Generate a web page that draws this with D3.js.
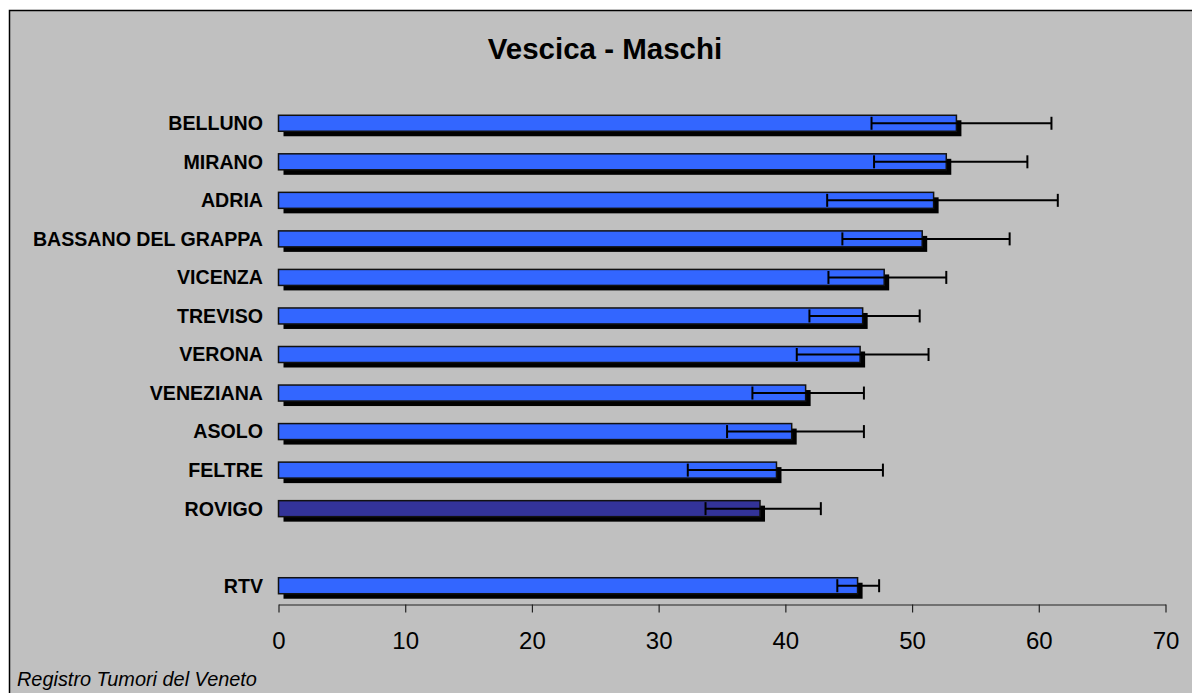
<!DOCTYPE html>
<html>
<head>
<meta charset="utf-8">
<script src="https://cdn.jsdelivr.net/npm/d3@7"></script>
<style>
  html, body { margin: 0; padding: 0; background: #ffffff; }
  svg { display: block; }
  text { font-family: "Liberation Sans", Arial, sans-serif; }
</style>
</head>
<body>
<svg id="chart" width="1192" height="693"></svg>
<script>
const title = "Vescica - Maschi";
const footer = "Registro Tumori del Veneto";
const categories = ["BELLUNO", "MIRANO", "ADRIA", "BASSANO DEL GRAPPA", "VICENZA", "TREVISO",
                    "VERONA", "VENEZIANA", "ASOLO", "FELTRE", "ROVIGO", "RTV"];
const rates = [53.5, 52.7, 51.7, 50.8, 47.8, 46.1, 45.9, 41.6, 40.5, 39.3, 38.0, 45.7];
const lowerCI = [46.8, 47.0, 43.3, 44.5, 43.4, 41.9, 40.9, 37.4, 35.4, 32.3, 33.7, 44.1];
const upperCI = [61.0, 59.1, 61.5, 57.7, 52.7, 50.6, 51.3, 46.2, 46.2, 47.7, 42.8, 47.4];
const highlighted = ["ROVIGO"];
const tickValues = [0, 10, 20, 30, 40, 50, 60, 70];

const data = categories.map((c, i) => ({ cat: c, v: rates[i], lo: lowerCI[i], hi: upperCI[i] }));
// slot order with an empty slot before RTV
const slots = categories.slice(0, 11).concat(["__gap__"], categories.slice(11));

const svg = d3.select("#chart");
const W = 1192, H = 693;

// frame
svg.append("rect").attr("x", 9.5).attr("y", 10.5).attr("width", W).attr("height", H)
  .attr("fill", "#c0c0c0").attr("stroke", "#000").attr("stroke-width", 1.5);

const x = d3.scaleLinear().domain([0, 70]).range([278.5, 1165.5]);
const y = d3.scaleBand().domain(slots).range([104, 605]).paddingInner(0.585).paddingOuter(0.2925);

// title
svg.append("text").attr("x", 605).attr("y", 59).attr("text-anchor", "middle")
  .attr("font-size", 29.5).attr("font-weight", "bold").attr("fill", "#000").text(title);

// category labels
svg.append("g").selectAll("text").data(data).join("text")
  .attr("x", 263).attr("y", d => y(d.cat) + y.bandwidth() / 2)
  .attr("dy", "0.35em").attr("text-anchor", "end")
  .attr("font-size", 19.6).attr("font-weight", "bold").attr("fill", "#000")
  .text(d => d.cat);

// shadows
svg.append("g").selectAll("rect").data(data).join("rect")
  .attr("x", x(0) + 5).attr("y", d => y(d.cat) + 5)
  .attr("width", d => x(d.v) - x(0)).attr("height", y.bandwidth())
  .attr("fill", "#000");

// bars
svg.append("g").selectAll("rect").data(data).join("rect")
  .attr("x", x(0)).attr("y", d => y(d.cat))
  .attr("width", d => x(d.v) - x(0)).attr("height", y.bandwidth())
  .attr("fill", d => highlighted.includes(d.cat) ? "#333399" : "#3366ff")
  .attr("stroke", "#111").attr("stroke-width", 1.5);

// error bars
const eb = svg.append("g").attr("stroke", "#000").attr("stroke-width", 2).attr("fill", "none");
const capH = 13;
eb.selectAll("line.h").data(data).join("line").attr("class", "h")
  .attr("x1", d => x(d.lo)).attr("x2", d => x(d.hi))
  .attr("y1", d => y(d.cat) + y.bandwidth() / 2).attr("y2", d => y(d.cat) + y.bandwidth() / 2);
eb.selectAll("line.lo").data(data).join("line").attr("class", "lo")
  .attr("x1", d => x(d.lo)).attr("x2", d => x(d.lo))
  .attr("y1", d => y(d.cat) + y.bandwidth() / 2 - capH / 2).attr("y2", d => y(d.cat) + y.bandwidth() / 2 + capH / 2);
eb.selectAll("line.hi").data(data).join("line").attr("class", "hi")
  .attr("x1", d => x(d.hi)).attr("x2", d => x(d.hi))
  .attr("y1", d => y(d.cat) + y.bandwidth() / 2 - capH / 2).attr("y2", d => y(d.cat) + y.bandwidth() / 2 + capH / 2);

// x axis
const axis = svg.append("g").attr("transform", "translate(0,604.5)")
  .call(d3.axisBottom(x).tickValues(tickValues).tickSize(8).tickSizeOuter(0).tickPadding(19.5).tickFormat(d3.format("d")));
axis.select(".domain").attr("stroke", "#222").attr("stroke-width", 1.2);
axis.selectAll(".tick line").attr("stroke", "#222").attr("stroke-width", 1.2);
axis.selectAll(".tick text").attr("font-size", 24).attr("fill", "#000")
  .attr("font-family", "'Liberation Sans', Arial, sans-serif");

// footer
svg.append("text").attr("x", 17).attr("y", 685.5).attr("font-size", 19.9)
  .attr("font-style", "italic").attr("fill", "#000").text(footer);
</script>
</body>
</html>
